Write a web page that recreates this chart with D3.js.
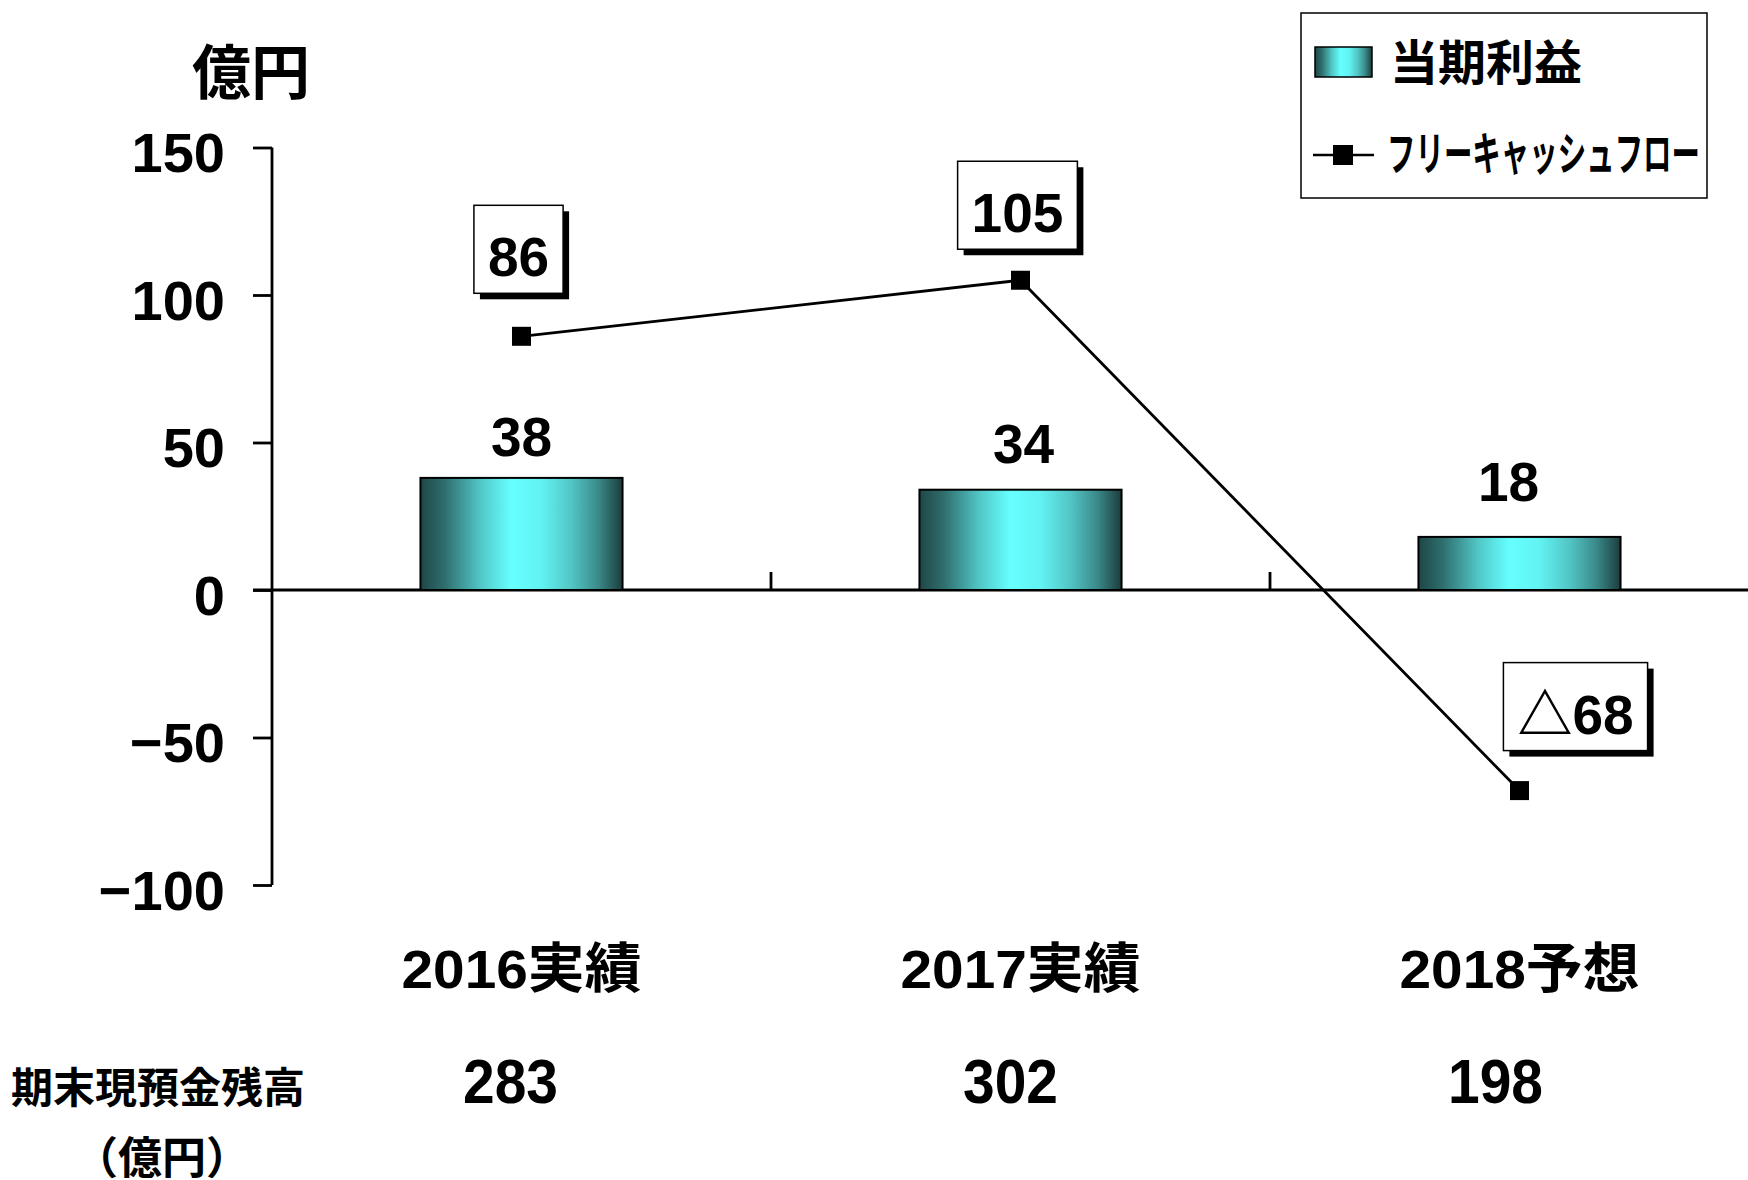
<!DOCTYPE html>
<html>
<head>
<meta charset="utf-8">
<script src="https://cdn.jsdelivr.net/npm/d3@7/dist/d3.min.js"></script>
<style>
  html, body { margin: 0; padding: 0; background: #ffffff; }
  svg { display: block; }
  text { font-family: "Liberation Sans", "Noto Sans CJK JP", sans-serif; font-weight: bold; fill: #000; }
</style>
</head>
<body>
<svg id="chart" width="1748" height="1180"></svg>
<script>
// ---------- data ----------
const categories = ["2016実績", "2017実績", "2018予想"];
const netIncome = [38, 34, 18];              // 当期利益
const freeCashFlow = [86, 105, -68];         // フリーキャッシュフロー
const cashBalance = [283, 302, 198];         // 期末現預金残高（億円）
const yTickValues = [-100, -50, 0, 50, 100, 150];
const seriesNames = ["当期利益", "フリーキャッシュフロー"];
const unitLabel = "億円";
const balanceTitle = "期末現預金残高";
const balanceUnit = "（億円）";

// ---------- layout (not data) ----------
const W = 1748, H = 1180;
const fcfLabelOffset = [[-3, -87], [-3, -75], [56, -84]];
const barLabelGap = [22, 27, 36];
const barLabelDx = [0, 3, -11];
const balanceDx = [-11, -10, -24];

const svg = d3.select("#chart");
svg.append("rect").attr("width", W).attr("height", H).attr("fill", "#fff");

const defs = svg.append("defs");
const grad = defs.append("linearGradient").attr("id", "barGrad")
  .attr("x1", "0").attr("x2", "1").attr("y1", "0").attr("y2", "0");
[[0, "#1f4646"], [0.12, "#2f6e6e"], [0.3, "#52c8c8"], [0.45, "#66ffff"],
 [0.6, "#62f2f2"], [0.75, "#52c4c4"], [0.88, "#3a8a8a"], [1, "#1c3c3c"]]
  .forEach(([o, c]) => grad.append("stop").attr("offset", o).attr("stop-color", c));

const x = d3.scaleBand().domain(categories).range([272, 1769]).paddingInner(0).paddingOuter(0);
const y = d3.scaleLinear().domain([-100, 150]).range([885, 147.5]);
const cx = c => x(c) + x.bandwidth() / 2;

// ---------- y axis ----------
const yAxis = d3.axisLeft(y).tickValues(yTickValues).tickSize(19).tickPadding(28)
  .tickFormat(d3.format("d"));
const gy = svg.append("g").attr("transform", "translate(272,0)").call(yAxis);
gy.select(".domain").attr("d", `M0,${y(150)}V${y(-100)}`).attr("stroke", "#000").attr("stroke-width", 2.8);
gy.selectAll(".tick line").attr("stroke", "#000").attr("stroke-width", 2.8);
gy.selectAll(".tick text").attr("font-size", 56).attr("dy", "0.43em")
  .style("font-family", '"Liberation Sans", "Noto Sans CJK JP", sans-serif').style("font-weight", "bold");

// zero line & category ticks
svg.append("line").attr("x1", 253).attr("x2", W).attr("y1", y(0)).attr("y2", y(0))
  .attr("stroke", "#000").attr("stroke-width", 2.8);
svg.selectAll(".ctick").data(categories.slice(1)).enter().append("line")
  .attr("x1", d => x(d)).attr("x2", d => x(d))
  .attr("y1", y(0)).attr("y2", y(0) - 18)
  .attr("stroke", "#000").attr("stroke-width", 2.8);

// unit label
svg.append("text").attr("x", 251).attr("y", 94).attr("text-anchor", "middle")
  .attr("font-size", 59).text(unitLabel);

// ---------- bars ----------
const barW = x.bandwidth() * 0.405;
svg.selectAll(".bar").data(netIncome).enter().append("rect")
  .attr("x", (d, i) => cx(categories[i]) - barW / 2)
  .attr("y", d => y(d))
  .attr("width", barW)
  .attr("height", d => y(0) - y(d))
  .attr("fill", "url(#barGrad)")
  .attr("stroke", "#000").attr("stroke-width", 2);

svg.selectAll(".barLabel").data(netIncome).enter().append("text")
  .attr("x", (d, i) => cx(categories[i]) + barLabelDx[i])
  .attr("y", (d, i) => y(d) - barLabelGap[i])
  .attr("text-anchor", "middle").attr("font-size", 55)
  .text(d => d);

// ---------- line ----------
const line = d3.line().x((d, i) => cx(categories[i])).y(d => y(d));
svg.append("path").datum(freeCashFlow).attr("d", line)
  .attr("fill", "none").attr("stroke", "#000").attr("stroke-width", 2.8);
svg.selectAll(".marker").data(freeCashFlow).enter().append("rect")
  .attr("x", (d, i) => cx(categories[i]) - 9.5)
  .attr("y", d => y(d) - 9.5)
  .attr("width", 19).attr("height", 19).attr("fill", "#000");

// boxed labels
freeCashFlow.forEach((d, i) => {
  const bx = cx(categories[i]) + fcfLabelOffset[i][0];
  const by = y(d) + fcfLabelOffset[i][1];
  const g = svg.append("g");
  const t = g.append("text").attr("x", bx).attr("y", by + 27)
    .attr("text-anchor", "middle").attr("font-size", 55)
    .text(d < 0 ? "△" + Math.abs(d) : String(d));
  const tw = t.node().getComputedTextLength();
  const bw = tw + 28, bh = 88;
  g.insert("rect", "text").attr("x", bx - bw / 2 + 6).attr("y", by - bh / 2 + 6)
    .attr("width", bw).attr("height", bh).attr("fill", "#000");
  g.insert("rect", "text").attr("x", bx - bw / 2).attr("y", by - bh / 2)
    .attr("width", bw).attr("height", bh).attr("fill", "#fff")
    .attr("stroke", "#000").attr("stroke-width", 1.5);
});

// ---------- category labels ----------
svg.selectAll(".cat").data(categories).enter().append("text")
  .attr("x", d => cx(d)).attr("y", 988)
  .attr("text-anchor", "middle").attr("font-size", 54)
  .attr("textLength", 240).attr("lengthAdjust", "spacingAndGlyphs")
  .text(d => d);

// ---------- cash balance row ----------
svg.selectAll(".bal").data(cashBalance).enter().append("text")
  .attr("x", (d, i) => cx(categories[i]) + balanceDx[i]).attr("y", 1103)
  .attr("text-anchor", "middle").attr("font-size", 63)
  .attr("textLength", 95).attr("lengthAdjust", "spacingAndGlyphs")
  .text(d => d);
svg.append("text").attr("x", 158).attr("y", 1103).attr("text-anchor", "middle")
  .attr("font-size", 42).text(balanceTitle);
svg.append("text").attr("x", 162).attr("y", 1174).attr("text-anchor", "middle")
  .attr("font-size", 44).text(balanceUnit);

// ---------- legend ----------
const lg = svg.append("g");
lg.append("rect").attr("x", 1301).attr("y", 13).attr("width", 406).attr("height", 185)
  .attr("fill", "#fff").attr("stroke", "#000").attr("stroke-width", 1.5);
lg.append("rect").attr("x", 1315).attr("y", 47).attr("width", 57).attr("height", 30)
  .attr("fill", "url(#barGrad)").attr("stroke", "#000").attr("stroke-width", 1.5);
lg.append("text").attr("x", 1390).attr("y", 80).attr("font-size", 48).text(seriesNames[0]);
lg.append("line").attr("x1", 1313).attr("x2", 1374).attr("y1", 155).attr("y2", 155)
  .attr("stroke", "#000").attr("stroke-width", 2.5);
lg.append("rect").attr("x", 1333).attr("y", 145).attr("width", 20).attr("height", 20).attr("fill", "#000");
lg.append("text").attr("x", 1387).attr("y", 170).attr("font-size", 46)
  .attr("textLength", 313).attr("lengthAdjust", "spacingAndGlyphs").text(seriesNames[1]);
</script>
</body>
</html>
